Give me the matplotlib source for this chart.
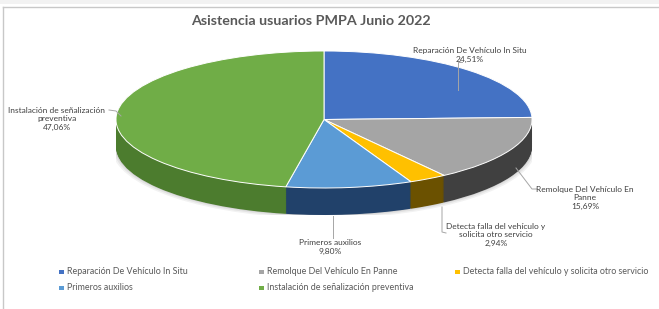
import matplotlib
matplotlib.use("Agg")
import matplotlib.pyplot as plt
from matplotlib.patches import Rectangle, Ellipse

categories = ["Reparación De Vehículo In Situ",
              "Remolque Del Vehículo En Panne",
              "Detecta falla del vehículo y solicita otro servicio",
              "Primeros auxilios",
              "Instalación de señalización preventiva"]
values = [24.51, 15.69, 2.94, 9.80, 47.06]
pct_labels = ["24,51%", "15,69%", "2,94%", "9,80%", "47,06%"]
data_labels = ["Reparación De Vehículo In Situ",
               "Remolque Del Vehículo En\nPanne",
               "Detecta falla del vehículo y\nsolicita otro servicio",
               "Primeros auxilios",
               "Instalación de señalización\npreventiva"]
title = "Asistencia usuarios PMPA Junio 2022"

top_colors = ["#4472C4", "#A5A5A5", "#FFC000", "#5B9BD5", "#70AD47"]
side_colors = ["#2b4a80", "#404040", "#6b5100", "#21416a", "#4c7c2e"]

FONT = "Lato"
W, H = 659, 309
fig = plt.figure(figsize=(W / 100, H / 100), dpi=100)
fig.patch.set_facecolor("white")

# pie geometry in pixels
cx, rx = 324, 208
top_y, bot_y, depth = 51, 188, 27
ry = (bot_y - top_y) / 2
d = depth / ry
L = (cx - rx) / W
B = (H - (bot_y + depth)) / H
Wd = 2 * rx / W
Hd = (2 * ry + depth) / H
axp = fig.add_axes([L, B, Wd, Hd])

# soft shadow
for k, a in enumerate([0.05, 0.06, 0.08]):
    axp.add_patch(Ellipse((0.0, -d - 0.02 + 0.01 * k), 2.0 + 0.04 - 0.015 * k, 2.0 + 0.06 - 0.02 * k,
                          facecolor="#000000", alpha=a, lw=0, zorder=0))

n = 40
for i in range(n):
    t = d * (1 - i / n)
    axp.pie(values, colors=side_colors, startangle=90, counterclock=False,
            center=(0, -t), radius=1.0,
            wedgeprops=dict(linewidth=0, antialiased=True))
axp.pie(values, colors=top_colors, startangle=90, counterclock=False,
        center=(0, 0), radius=1.0,
        wedgeprops=dict(linewidth=0.7, edgecolor="white"))
axp.set_aspect("auto")
axp.set_xlim(-1, 1)
axp.set_ylim(-1 - d, 1)
axp.axis("off")

# overlay in pixel coordinates
axo = fig.add_axes([0, 0, 1, 1], zorder=5)
axo.set_xlim(0, W)
axo.set_ylim(H, 0)
axo.axis("off")
axo.patch.set_alpha(0)

axo.add_patch(Rectangle((0, 0), W, 4, facecolor="#f2f2f2", lw=0))
axo.plot([3, W], [7, 7], color="#c8c8c8", lw=1)
axo.plot([3, 3], [7, H], color="#c8c8c8", lw=1)

axo.text(311, 21, title, ha="center", va="center", fontsize=10.3,
         fontweight="bold", color="#595959", family=FONT)

lab_color = "#404040"
lab_fs = 6.0
label_pos = [(470, 55), (585, 198), (496, 235), (330, 247), (57, 119)]
for txt, pct, (x, y) in zip(data_labels, pct_labels, label_pos):
    axo.text(x, y, txt + "\n" + pct, ha="center", va="center", fontsize=lab_fs,
             color=lab_color, family=FONT, linespacing=1.3)

leader_lines = [
    ([462, 458, 458], [62, 62, 90]),
    ([516, 532, 537], [168, 189, 189]),
    ([442, 442, 446], [207, 232, 233]),
    ([333, 333], [216, 238]),
    ([109, 116, 121], [110, 111, 116]),
]
for xs, ys in leader_lines:
    axo.plot(xs, ys, color="#a6a6a6", lw=0.7)

# legend (row-major, Excel style)
leg_pos = [(62, 272), (262, 272), (458, 272), (62, 288), (262, 288)]
for name, col, (x, y) in zip(categories, top_colors, leg_pos):
    axo.add_patch(Rectangle((x - 3, y - 2), 5, 4, facecolor=col, lw=0))
    axo.text(x + 5, y, name, ha="left", va="center", fontsize=6.4,
             color="#595959", family=FONT)

fig.savefig("out.png", dpi=100, facecolor="white")
